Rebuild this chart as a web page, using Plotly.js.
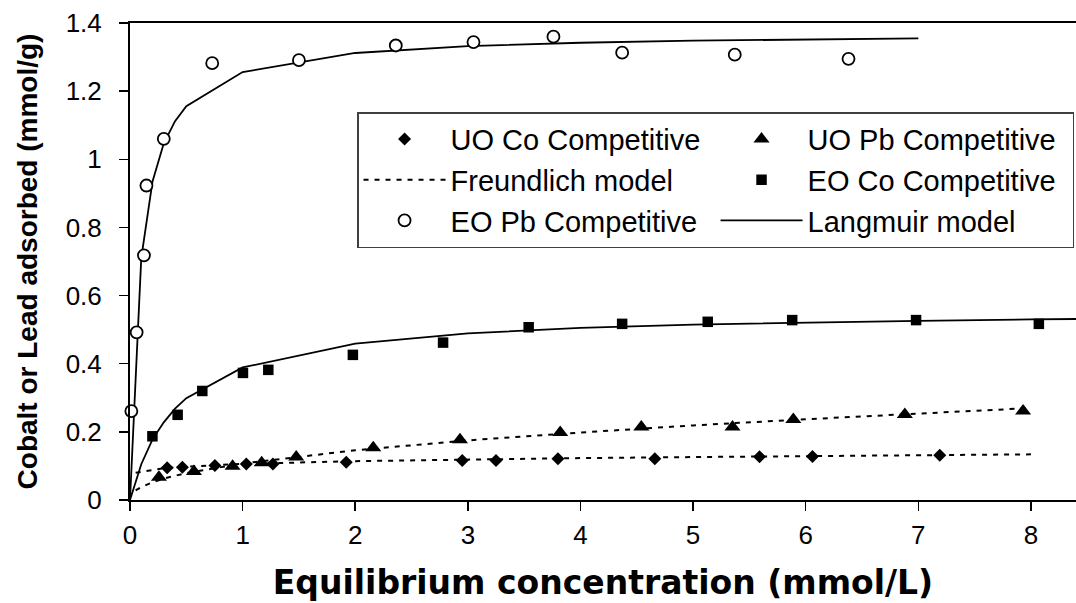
<!DOCTYPE html>
<html>
<head>
<meta charset="utf-8">
<script src="https://cdn.plot.ly/plotly-3.0.1.min.js"></script>
<style>html,body{margin:0;padding:0;background:#fff;}#chart{width:1076px;height:603px;}</style>
</head>
<body>
<div id="chart"></div>
<script>
// ---- Data ----
// UO Co Competitive (diamonds)
var uoCoX = [0.33, 0.465, 0.754, 1.033, 1.269, 1.92, 2.95, 3.25, 3.80, 4.66, 5.59, 6.06, 7.19];
var uoCoY = [0.095, 0.096, 0.101, 0.106, 0.106, 0.111, 0.116, 0.116, 0.121, 0.121, 0.127, 0.128, 0.131];
// UO Pb Competitive (triangles)
var uoPbX = [0.257, 0.568, 0.911, 1.169, 1.476, 2.16, 2.93, 3.82, 4.54, 5.35, 5.89, 6.88, 7.93];
var uoPbY = [0.067, 0.084, 0.099, 0.109, 0.126, 0.153, 0.177, 0.198, 0.214, 0.214, 0.236, 0.251, 0.261];
// EO Co Competitive (squares)
var eoCoX = [0.199, 0.423, 0.642, 1.003, 1.228, 1.979, 2.78, 3.54, 4.37, 5.13, 5.88, 6.98, 8.07];
var eoCoY = [0.187, 0.250, 0.320, 0.373, 0.382, 0.426, 0.462, 0.507, 0.517, 0.523, 0.528, 0.528, 0.517];
// EO Pb Competitive (open circles)
var eoPbX = [0.012, 0.059, 0.124, 0.146, 0.30, 0.73, 1.50, 2.36, 3.05, 3.76, 4.37, 5.37, 6.38];
var eoPbY = [0.261, 0.492, 0.718, 0.923, 1.060, 1.282, 1.291, 1.334, 1.344, 1.360, 1.313, 1.307, 1.295];

// Freundlich model curves (dotted)
var freuX   = [0.05, 0.1, 0.2, 0.3, 0.5, 1, 2, 3, 4, 5, 6, 7, 8];
var freuCoY = [0.080, 0.083, 0.089, 0.093, 0.098, 0.106, 0.114, 0.119, 0.123, 0.126, 0.129, 0.131, 0.134];
var freuPbY = [0.028, 0.038, 0.052, 0.063, 0.079, 0.107, 0.146, 0.175, 0.198, 0.219, 0.237, 0.254, 0.270];

// Langmuir model curves (solid)
var langCoX = [0, 0.1, 0.2, 0.3, 0.4, 0.5, 1, 2, 3, 4, 5, 6, 7, 8, 9];
var langCoY = [0, 0.105, 0.178, 0.228, 0.268, 0.299, 0.389, 0.459, 0.489, 0.505, 0.515, 0.521, 0.526, 0.530, 0.533];
var langPbX = [0, 0.1, 0.2, 0.3, 0.4, 0.5, 1, 2, 3, 4, 5, 6, 7];
var langPbY = [0, 0.71, 0.935, 1.047, 1.112, 1.156, 1.256, 1.312, 1.332, 1.342, 1.348, 1.352, 1.355];

// Axis labels / texts
var xTitle = 'Equilibrium concentration (mmol/L)';
var yTitle = 'Cobalt or Lead adsorbed (mmol/g)';
var names = ['UO Co Competitive', 'UO Pb Competitive', 'Freundlich model', 'EO Co Competitive', 'EO Pb Competitive', 'Langmuir model'];

var dotted = {color: 'black', width: 2, dash: '5px,6px'};
var solid = {color: 'black', width: 1.8};

var traces = [
  {x: freuX, y: freuCoY, mode: 'lines', line: dotted, name: names[2], legendrank: 3, showlegend: true},
  {x: freuX, y: freuPbY, mode: 'lines', line: dotted, name: names[2], showlegend: false},
  {x: langCoX, y: langCoY, mode: 'lines', line: solid, name: names[5], legendrank: 6, showlegend: true},
  {x: langPbX, y: langPbY, mode: 'lines', line: solid, name: names[5], showlegend: false},
  {x: uoCoX, y: uoCoY, mode: 'markers', name: names[0], legendrank: 1, cliponaxis: false,
   marker: {symbol: 'diamond', size: 10, color: 'black'}},
  {x: uoPbX, y: uoPbY, mode: 'markers', name: names[1], legendrank: 2, cliponaxis: false,
   marker: {symbol: 'triangle-up', size: 14, color: 'black'}},
  {x: eoCoX, y: eoCoY, mode: 'markers', name: names[3], legendrank: 4, cliponaxis: false,
   marker: {symbol: 'square', size: 10.5, color: 'black'}},
  {x: eoPbX, y: eoPbY, mode: 'markers', name: names[4], legendrank: 5, cliponaxis: false,
   marker: {symbol: 'circle', size: 12, color: 'white', line: {color: 'black', width: 1.8}}}
];

var axisCommon = {
  showgrid: false, zeroline: false, showline: true, linecolor: 'black', linewidth: 2,
  ticks: 'outside', ticklen: 9, tickwidth: 1.5, tickcolor: 'black',
  tickfont: {size: 26, color: 'black'}
};

var layout = {
  width: 1076, height: 603,
  margin: {l: 130, r: 0, t: 23, b: 103, pad: 0},
  paper_bgcolor: 'white', plot_bgcolor: 'white',
  font: {family: '"Liberation Sans", Arial, sans-serif', color: 'black', size: 25},
  showlegend: true,
  xaxis: Object.assign({}, axisCommon, {
    range: [0, 8.4], tick0: 0, dtick: 1, mirror: true, ticklabelstandoff: 2,
    title: {text: xTitle, font: {family: '"DejaVu Sans", sans-serif', size: 33, weight: 'bold', color: 'black'}, standoff: 22}
  }),
  yaxis: Object.assign({}, axisCommon, {
    range: [0, 1.4], tick0: 0, dtick: 0.2, ticklabelstandoff: 12,
    title: {text: yTitle, font: {size: 28, weight: 'bold', color: 'black'}, standoff: 20}
  }),
  legend: {
    orientation: 'h', traceorder: 'normal',
    x: 0.240, y: 0.813, xanchor: 'left', yanchor: 'top',
    entrywidth: 260, itemwidth: 82,
    bordercolor: '#404040', borderwidth: 1.5, bgcolor: 'white',
    font: {size: 29, color: 'black'}
  }
};

Plotly.newPlot('chart', traces, layout, {displayModeBar: false, staticPlot: true});
</script>
</body>
</html>
